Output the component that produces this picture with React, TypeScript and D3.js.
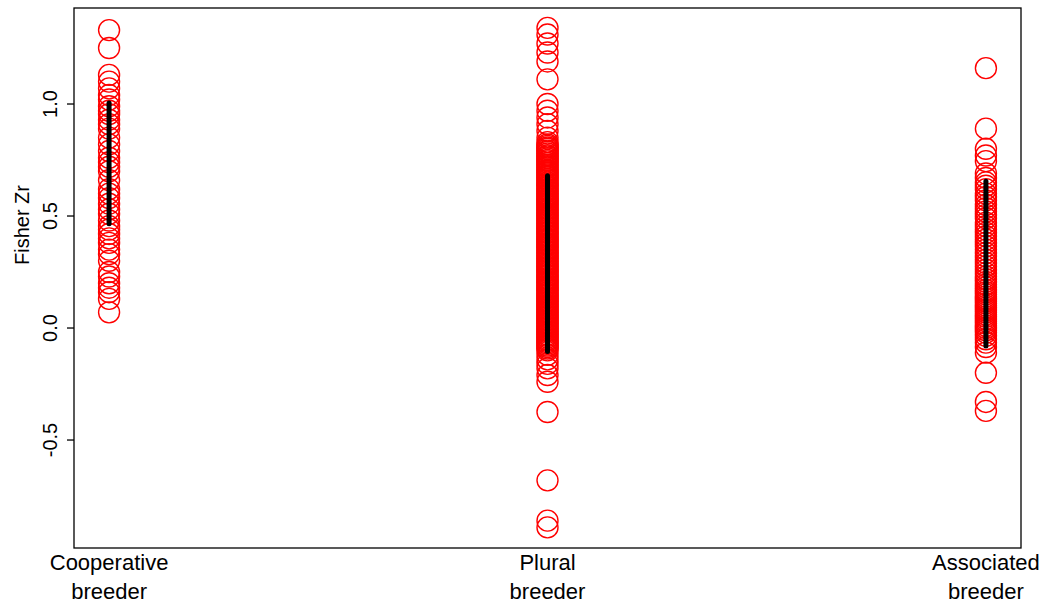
import React from 'react'
import * as d3 from 'd3'

const categories = ['Cooperative\nbreeder', 'Plural\nbreeder', 'Associated\nbreeder']

const cooperative = [
  1.33, 1.25, 1.13, 1.1, 1.07, 1.04, 1.02, 0.99, 0.97, 0.955, 0.93, 0.91, 0.89, 0.85, 0.82, 0.79,
  0.76, 0.74, 0.72, 0.7, 0.66, 0.62, 0.6, 0.58, 0.555, 0.53, 0.51, 0.48, 0.455, 0.44, 0.42, 0.4,
  0.38, 0.35, 0.33, 0.3, 0.25, 0.23, 0.2, 0.18, 0.16, 0.13, 0.07,
]

const plural = [
  1.34, 1.31, 1.27, 1.23, 1.19, 1.11, 1.0, 0.97, 0.94, 0.91, 0.88, 0.85, 0.83,
  0.82, 0.813, 0.806, 0.8, 0.792, 0.787, 0.779, 0.771, 0.766, 0.758, 0.75, 0.744, 0.737, 0.729,
  0.722, 0.716, 0.707, 0.701, 0.694, 0.686, 0.68, 0.673, 0.665, 0.659, 0.65, 0.644, 0.637, 0.63,
  0.622, 0.615, 0.609, 0.6, 0.594, 0.587, 0.579, 0.572, 0.566, 0.558, 0.551, 0.545, 0.537, 0.53,
  0.523, 0.515, 0.509, 0.502, 0.494, 0.488, 0.48, 0.473, 0.466, 0.458, 0.452, 0.445, 0.437, 0.43,
  0.424, 0.416, 0.409, 0.401, 0.395, 0.388, 0.38, 0.373, 0.367, 0.359, 0.352, 0.345, 0.338, 0.331,
  0.323, 0.317, 0.309, 0.302, 0.296, 0.288, 0.281, 0.274, 0.267, 0.26, 0.253, 0.246, 0.238, 0.232,
  0.224, 0.217, 0.21, 0.203, 0.196, 0.189, 0.181, 0.175, 0.168, 0.16, 0.153, 0.146, 0.139, 0.132,
  0.125, 0.118, 0.111, 0.104, 0.097, 0.09, 0.083, 0.076, 0.069, 0.062, 0.055, 0.048, 0.041, 0.034,
  0.027, 0.02, 0.013, 0.006, -0.001, -0.008, -0.015, -0.022, -0.029, -0.036, -0.043, -0.05, -0.057,
  -0.064, -0.071, -0.078, -0.085, -0.092, -0.1,
  -0.12, -0.14, -0.16, -0.18, -0.21, -0.24, -0.375, -0.68, -0.86, -0.89,
]

const associated = [
  1.16, 0.89, 0.8, 0.77, 0.745, 0.69, 0.67, 0.65, 0.635, 0.62, 0.6, 0.585, 0.57, 0.55, 0.535,
  0.52, 0.505, 0.49, 0.47, 0.455, 0.44, 0.425, 0.41, 0.395, 0.38, 0.365, 0.35, 0.335, 0.32, 0.305,
  0.29, 0.275, 0.26, 0.245, 0.23, 0.218, 0.206, 0.194, 0.182, 0.17, 0.16, 0.15, 0.14, 0.13, 0.12,
  0.11, 0.1, 0.09, 0.08, 0.07, 0.06, 0.05, 0.04, 0.03, 0.02, 0.01, 0.0, -0.01, -0.02, -0.035,
  -0.05, -0.065, -0.085, -0.11, -0.2, -0.33, -0.37,
]

const seriesValues = [cooperative, plural, associated]

// vertical black bars (low, high) per group
const barLow = [0.465, -0.105, -0.08]
const barHigh = [1.005, 0.68, 0.655]

const yTicks = [-0.5, 0, 0.5, 1]
const yTickLabels = ['-0.5', '0.0', '0.5', '1.0']

const width = 1044
const height = 603
const margin = { top: 8, right: 23, bottom: 55, left: 74 }

export default function App() {
  const x = d3
    .scaleLinear()
    .domain([0.92, 3.08])
    .range([margin.left, width - margin.right])
  const y = d3
    .scaleLinear()
    .domain([-0.982, 1.4286])
    .range([height - margin.bottom, margin.top])

  const font = "'Liberation Sans', Arial, sans-serif"

  return (
    <svg
      width={width}
      height={height}
      style={{ position: 'absolute', left: 0, top: 0, background: 'white' }}
      fontFamily={font}
    >
      <rect
        x={margin.left}
        y={margin.top}
        width={width - margin.left - margin.right}
        height={height - margin.top - margin.bottom}
        fill="none"
        stroke="#000"
        strokeWidth={1.3}
      />

      {seriesValues.map((vals, i) => (
        <g key={i}>
          {vals.map((v, j) => (
            <circle
              key={j}
              cx={x(i + 1)}
              cy={y(v)}
              r={10.5}
              fill="none"
              stroke="#ff0000"
              strokeWidth={1.4}
            />
          ))}
        </g>
      ))}

      {barLow.map((lo, i) => (
        <line
          key={i}
          x1={x(i + 1)}
          x2={x(i + 1)}
          y1={y(lo)}
          y2={y(barHigh[i])}
          stroke="#000"
          strokeWidth={5}
          strokeLinecap="round"
        />
      ))}

      {yTicks.map((t, i) => (
        <g key={t}>
          <line x1={margin.left - 7} x2={margin.left} y1={y(t)} y2={y(t)} stroke="#000" strokeWidth={1.3} />
          <text
            transform={`translate(${57},${y(t)}) rotate(-90)`}
            textAnchor="middle"
            fontSize={20}
          >
            {yTickLabels[i]}
          </text>
        </g>
      ))}

      <text transform={`translate(${29},${225}) rotate(-90)`} textAnchor="middle" fontSize={20}>
        Fisher Zr
      </text>

      {categories.map((c, i) =>
        c.split('\n').map((line, k) => (
          <text
            key={`${i}-${k}`}
            x={x(i + 1)}
            y={570 + k * 29}
            textAnchor="middle"
            fontSize={22}
          >
            {line}
          </text>
        )),
      )}
    </svg>
  )
}
